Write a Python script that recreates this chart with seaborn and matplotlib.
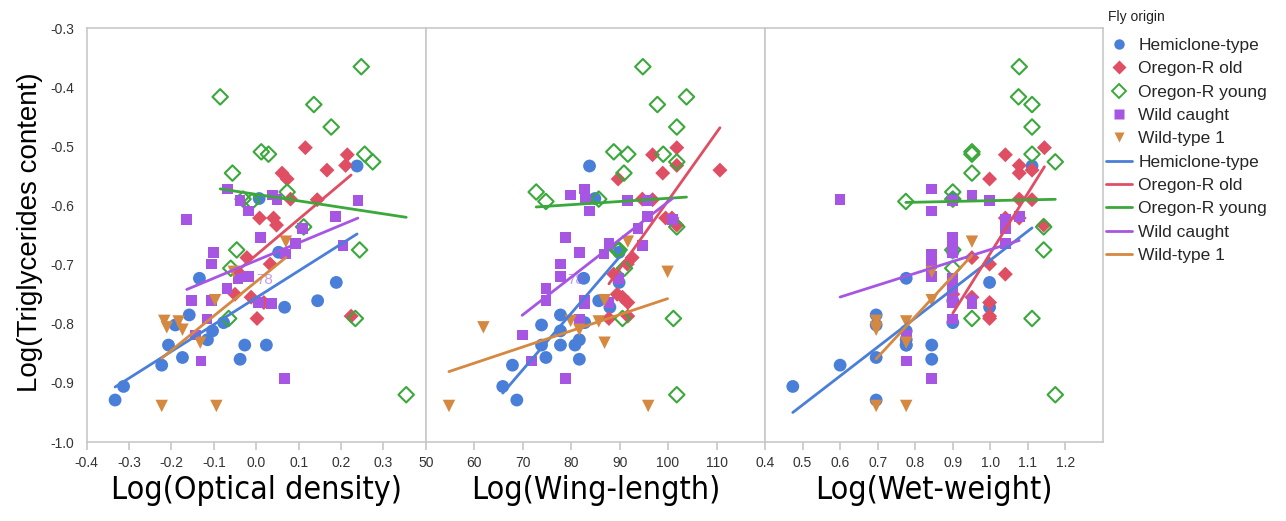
import numpy as np
import pandas as pd
import matplotlib
matplotlib.use("Agg")
import matplotlib.pyplot as plt
import seaborn as sns
from matplotlib.lines import Line2D
from matplotlib import font_manager

sns.set_theme(style="white")
plt.rcParams["font.family"] = ["Liberation Sans", "DejaVu Sans"]
plt.rcParams["axes.unicode_minus"] = False

# --- data: log(triglycerides) per fly, and the three predictors ---
hemi_y = [-0.929, -0.906, -0.870, -0.836, -0.857, -0.802, -0.785, -0.723, -0.827, -0.812,
          -0.798, -0.860, -0.836, -0.836, -0.679, -0.772, -0.761, -0.730, -0.533, -0.588]
hemi_od = [-0.333, -0.313, -0.223, -0.207, -0.174, -0.191, -0.158, -0.134, -0.115, -0.103,
           -0.077, -0.038, -0.027, 0.024, 0.053, 0.067, 0.145, 0.189, 0.238, 0.007]
hemi_wing = [68.8, 65.9, 67.9, 73.9, 74.8, 73.9, 77.8, 82.6, 81.7, 77.8,
             82.8, 81.7, 77.8, 80.8, 89.9, 88.0, 85.7, 89.9, 83.8, 84.9]
hemi_wet = [0.696, 0.474, 0.600, 0.776, 0.696, 0.696, 0.696, 0.776, 0.776, 0.776,
            0.900, 0.844, 0.844, 0.776, 0.900, 0.998, 0.900, 0.998, 1.111, 0.900]

old_y = [-0.502, -0.514, -0.532, -0.540, -0.545, -0.555, -0.589, -0.590, -0.621, -0.621,
         -0.633, -0.688, -0.699, -0.716, -0.750, -0.755, -0.764, -0.791, -0.787]
old_od = [0.116, 0.215, 0.211, 0.167, 0.061, 0.073, 0.081, 0.144, 0.008, 0.041,
          0.048, -0.022, 0.033, -0.038, -0.050, -0.012, 0.018, 0.002, 0.224]
old_wing = [101.8, 96.8, 101.8, 110.7, 98.9, 89.7, 94.7, 96.8, 99.5, 100.8,
            101.8, 92.6, 91.6, 88.8, 89.5, 90.6, 91.7, 87.8, 91.7]
old_wet = [1.144, 1.040, 1.077, 1.111, 1.077, 0.998, 1.077, 1.111, 1.040, 1.077,
           1.142, 0.951, 0.998, 1.040, 0.900, 0.951, 0.998, 0.998, 0.998]

young_y = [-0.365, -0.416, -0.429, -0.467, -0.509, -0.513, -0.513, -0.526, -0.545, -0.577,
           -0.593, -0.589, -0.636, -0.675, -0.675, -0.706, -0.791, -0.791, -0.920]
young_od = [0.248, -0.085, 0.136, 0.177, 0.012, 0.029, 0.256, 0.275, -0.056, 0.073,
            -0.010, -0.031, 0.112, 0.244, -0.046, -0.060, -0.065, 0.234, 0.354]
young_wing = [94.8, 103.8, 97.8, 101.8, 88.8, 91.7, 99.0, 101.8, 90.9, 72.8,
              74.8, 85.7, 101.8, 89.9, 89.5, 91.0, 90.6, 101.1, 101.8]
young_wet = [1.077, 1.075, 1.111, 1.111, 0.951, 0.951, 1.111, 1.173, 0.951, 0.900,
             0.775, 0.900, 1.142, 1.142, 0.900, 0.900, 0.951, 1.111, 1.173]

wild_y = [-0.572, -0.582, -0.590, -0.592, -0.592, -0.609, -0.618, -0.624, -0.639, -0.654,
          -0.664, -0.668, -0.679, -0.682, -0.699, -0.720, -0.723, -0.740, -0.761, -0.760,
          -0.764, -0.766, -0.792, -0.819, -0.863, -0.892]
wild_od = [-0.067, 0.039, 0.049, -0.038, 0.240, -0.018, 0.187, -0.164, 0.110, 0.010,
           0.092, 0.205, -0.101, 0.070, -0.106, -0.018, -0.043, -0.069, -0.152, -0.105,
           0.006, 0.036, -0.116, -0.144, -0.130, 0.067]
wild_wing = [82.8, 79.9, 83.0, 91.7, 95.7, 83.8, 95.7, 100.9, 93.8, 78.8,
             87.8, 94.8, 81.7, 86.8, 77.8, 77.8, 89.9, 74.8, 74.8, 82.8,
             87.8, 82.8, 81.7, 69.9, 71.8, 78.8]
wild_wet = [0.844, 0.951, 0.600, 0.900, 0.998, 0.844, 1.077, 1.040, 1.040, 0.900,
            1.040, 0.900, 0.900, 0.844, 0.844, 0.844, 0.900, 0.900, 0.900, 0.951,
            0.900, 0.951, 0.900, 0.776, 0.776, 0.844]

wt1_y = [-0.939, -0.939, -0.795, -0.806, -0.796, -0.810, -0.832, -0.760, -0.712, -0.661]
wt1_od = [-0.223, -0.094, -0.217, -0.211, -0.183, -0.174, -0.132, -0.097, -0.053, 0.070]
wt1_wing = [54.8, 95.9, 79.9, 61.9, 85.7, 81.7, 86.9, 86.9, 99.9, 91.7]
wt1_wet = [0.696, 0.776, 0.696, 0.696, 0.776, 0.696, 0.776, 0.844, 0.844, 0.951]

origins = ["Hemiclone-type", "Oregon-R old", "Oregon-R young", "Wild caught", "Wild-type 1"]
predictors = ["Log(Optical density)", "Log(Wing-length)", "Log(Wet-weight)"]

groups = {
    "Hemiclone-type": (hemi_y, hemi_od, hemi_wing, hemi_wet),
    "Oregon-R old": (old_y, old_od, old_wing, old_wet),
    "Oregon-R young": (young_y, young_od, young_wing, young_wet),
    "Wild caught": (wild_y, wild_od, wild_wing, wild_wet),
    "Wild-type 1": (wt1_y, wt1_od, wt1_wing, wt1_wet),
}

rows = []
for origin, (ys, *xs) in groups.items():
    for pred, xvals in zip(predictors, xs):
        for xv, yv in zip(xvals, ys):
            rows.append({"origin": origin, "predictor": pred, "x": xv, "y": yv})
df = pd.DataFrame(rows)

colors = {"Hemiclone-type": "#4a7fd9", "Oregon-R old": "#df4e63", "Oregon-R young": "#3aa83a",
          "Wild caught": "#a656e2", "Wild-type 1": "#d5883f"}
markers = {"Hemiclone-type": "o", "Oregon-R old": "D", "Oregon-R young": "D",
           "Wild caught": "s", "Wild-type 1": "v"}
sizes = {"Hemiclone-type": 85, "Oregon-R old": 58, "Oregon-R young": 62,
         "Wild caught": 60, "Wild-type 1": 80}

xlims = [(-0.4, 0.4), (50, 120), (0.4, 1.3)]
xticks = [[-0.4, -0.3, -0.2, -0.1, 0.0, 0.1, 0.2, 0.3],
          [50, 60, 70, 80, 90, 100, 110],
          [0.4, 0.5, 0.6, 0.7, 0.8, 0.9, 1.0, 1.1, 1.2]]
xfmt = ["{:.1f}", "{:.0f}", "{:.1f}"]
yticks = [-0.3, -0.4, -0.5, -0.6, -0.7, -0.8, -0.9, -1.0]

# the x titles are in a narrow face; use one if the machine has it
narrow = None
for f in font_manager.fontManager.ttflist:
    nm = f.name.lower()
    if "narrow" in nm or "condensed" in nm or f.stretch in ("condensed", "semi-condensed"):
        if "sans" in nm or "roboto" in nm or "open" in nm:
            narrow = f
            break
if narrow is not None:
    title_font = dict(family=narrow.name, stretch=narrow.stretch, fontsize=23)
else:
    title_font = dict(family=["Liberation Sans", "DejaVu Sans"], fontsize=19)

W, H = 1286, 521
fig = plt.figure(figsize=(W / 100, H / 100), dpi=100)
lefts = [86.7, 425.7, 765.0]
widths = [339.0, 339.3, 338.0]
grey = "#c8c8c8"

axes = []
for i, pred in enumerate(predictors):
    ax = fig.add_axes([lefts[i] / W, 79 / H, widths[i] / W, 413.7 / H])
    axes.append(ax)
    sub = df[df["predictor"] == pred]
    for origin in origins:
        g = sub[sub["origin"] == origin]
        c = colors[origin]
        if origin == "Oregon-R young":
            sns.scatterplot(x=g["x"], y=g["y"], ax=ax, marker="D", s=sizes[origin],
                            facecolor="none", edgecolor=c, linewidth=1.5, zorder=3)
        else:
            sns.scatterplot(x=g["x"], y=g["y"], ax=ax, marker=markers[origin], s=sizes[origin],
                            color=c, edgecolor="none", linewidth=0, zorder=3)
    for origin in origins:
        g = sub[sub["origin"] == origin]
        sns.regplot(x=g["x"], y=g["y"], ax=ax, scatter=False, ci=None,
                    color=colors[origin], line_kws={"lw": 2, "zorder": 4})

    ax.set_xlim(*xlims[i])
    ax.set_ylim(-1.0, -0.3)
    ax.set_xticks(xticks[i])
    ax.set_xticklabels([xfmt[i].format(t) for t in xticks[i]])
    ax.set_xlabel("")
    ax.set_ylabel("")
    ax.set_yticks(yticks)
    if i == 0:
        ax.set_yticklabels(["{:.1f}".format(t) for t in yticks])
        ax.tick_params(axis="y", length=6, color=grey, labelsize=10, labelcolor="#333333", pad=3)
    else:
        ax.tick_params(axis="y", left=False, labelleft=False)
    ax.tick_params(axis="x", bottom=True, length=6, color=grey, labelsize=10,
                   labelcolor="#333333", pad=4)
    for s in ax.spines.values():
        s.set_color(grey)
        s.set_linewidth(1.2)
    ax.grid(False)
    fig.text((lefts[i] + widths[i] / 2) / W, 1 - 491 / H, pred, ha="center", va="center",
             color="black", **title_font)

# stray "78" tooltip labels seen in the original
axes[0].text(0.021, -0.726, "78", color="#a656e2", alpha=0.6, fontsize=11, ha="center", va="center")
axes[1].text(80.9, -0.726, "78", color="#a656e2", alpha=0.6, fontsize=11, ha="center", va="center")

fig.text(30 / W, 1 - 232 / H, "Log(Triglycerides content)", rotation=90, ha="center",
         va="center", fontsize=20, color="black")

handles = []
for origin in origins:
    c = colors[origin]
    if origin == "Oregon-R young":
        handles.append(Line2D([], [], ls="", marker="D", ms=7, mfc="none", mec=c, mew=1.4))
    else:
        handles.append(Line2D([], [], ls="", marker=markers[origin], ms=7.5, mfc=c, mec="none"))
for origin in origins:
    handles.append(Line2D([], [], color=colors[origin], lw=2))

fig.text(1108 / W, 1 - 17 / H, "Fly origin", ha="left", va="center", fontsize=10, color="#222222")
fig.legend(handles, origins + origins, loc="upper left",
           bbox_to_anchor=(1106 / W, 1 - 38 / H), frameon=False, fontsize=12.5,
           handlelength=1.5, handletextpad=0.37, labelspacing=0.47, borderaxespad=0,
           borderpad=0)

fig.savefig("out.png", dpi=100)
